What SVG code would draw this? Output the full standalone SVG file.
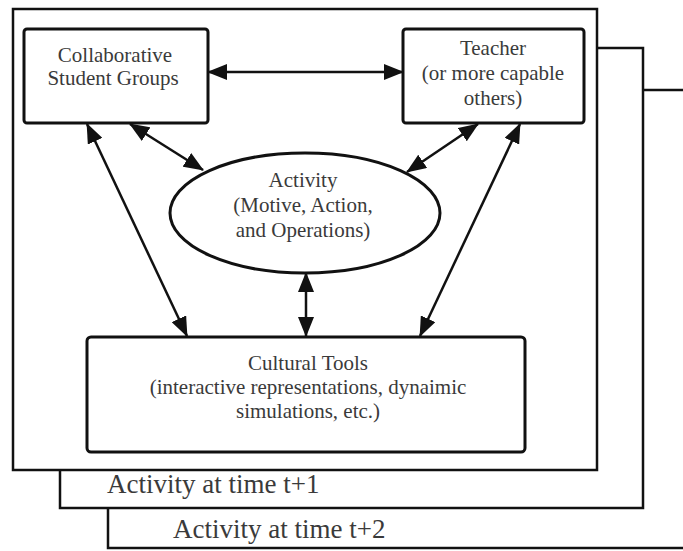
<svg xmlns="http://www.w3.org/2000/svg" width="683" height="551" viewBox="0 0 683 551">
<style>
.frame{fill:#fff;stroke:#111;stroke-width:2.5}
.box{fill:#fff;stroke:#111;stroke-width:3}
.t{font-family:"Liberation Serif","Times New Roman",serif;font-size:21px;fill:#3a3a3a;text-anchor:middle}
.lbl{font-family:"Liberation Serif","Times New Roman",serif;font-size:27px;fill:#3a3a3a}
.con{stroke:#111;stroke-width:2.5;fill:none;marker-start:url(#ah);marker-end:url(#ah)}
</style>
<defs>
<marker id="ah" viewBox="0 0 20 16" refX="19" refY="8" markerWidth="20" markerHeight="16" markerUnits="userSpaceOnUse" orient="auto-start-reverse">
<path d="M0,0 L20,8 L0,16 z" fill="#111"/>
</marker>
</defs>
<rect width="683" height="551" fill="#fff"/>
<g id="frame-t2">
<rect class="frame" x="108" y="90" width="590" height="458"/>
<text class="lbl" x="173" y="538">Activity at time t+2</text>
</g>
<g id="frame-t1">
<rect class="frame" x="60" y="48" width="583" height="460"/>
<text class="lbl" x="107" y="493">Activity at time t+1</text>
</g>
<g id="frame-t0">
<rect class="frame" x="13" y="9" width="584" height="461"/>
</g>
<g id="collab">
<rect class="box" x="24" y="29" width="184" height="94" rx="3"/>
<text class="t" x="115" y="62">Collaborative</text>
<text class="t" x="113" y="85">Student Groups</text>
</g>
<g id="teacher">
<rect class="box" x="403" y="29" width="181" height="94" rx="3"/>
<text class="t" x="493" y="55">Teacher</text>
<text class="t" x="493" y="80">(or more capable</text>
<text class="t" x="493" y="105">others)</text>
</g>
<g id="activity">
<ellipse class="box" cx="305" cy="213" rx="135" ry="60"/>
<text class="t" x="303" y="187">Activity</text>
<text class="t" x="303" y="212">(Motive, Action,</text>
<text class="t" x="303" y="237">and Operations)</text>
</g>
<g id="tools">
<rect class="box" x="87" y="337" width="438" height="115" rx="4"/>
<text class="t" x="308" y="370">Cultural Tools</text>
<text class="t" x="308" y="394">(interactive representations, dynaimic</text>
<text class="t" x="308" y="418">simulations, etc.)</text>
</g>
<g id="connectors">
<line class="con" x1="208" y1="72" x2="403" y2="72"/>
<line class="con" x1="130" y1="124" x2="203" y2="170"/>
<line class="con" x1="478" y1="124" x2="407" y2="172"/>
<line class="con" x1="87" y1="124" x2="187" y2="336"/>
<line class="con" x1="520" y1="124" x2="420" y2="336"/>
<line class="con" x1="306" y1="273" x2="306" y2="336"/>
</g>
</svg>
